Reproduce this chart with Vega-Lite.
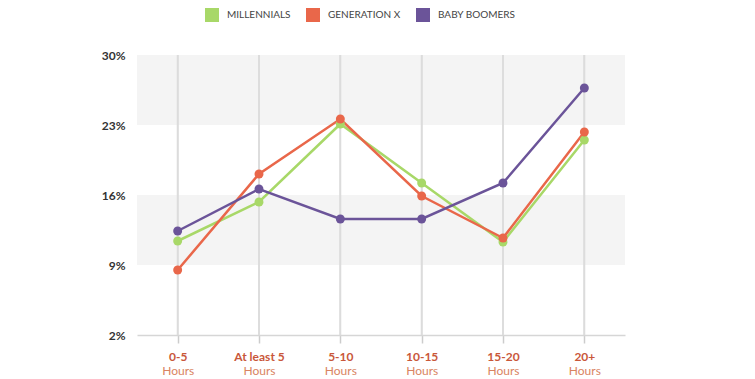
{
  "$schema": "https://vega.github.io/schema/vega-lite/v6.json",
  "width": 488,
  "height": 280,
  "autosize": {"type": "none"},
  "padding": {"left": 137, "top": 55, "right": 130, "bottom": 44},
  "background": "white",
  "config": {"view": {"stroke": null}, "font": "Lato"},
  "datasets": {
    "bands": [{"lo": 23, "hi": 30}, {"lo": 9, "hi": 16}],
    "main": [
      {"hours": "0-5", "gen": "MILLENNIALS", "value": 11.4},
      {"hours": "At least 5", "gen": "MILLENNIALS", "value": 15.3},
      {"hours": "5-10", "gen": "MILLENNIALS", "value": 23.1},
      {"hours": "10-15", "gen": "MILLENNIALS", "value": 17.2},
      {"hours": "15-20", "gen": "MILLENNIALS", "value": 11.3},
      {"hours": "20+", "gen": "MILLENNIALS", "value": 21.5},
      {"hours": "0-5", "gen": "GENERATION X", "value": 8.5},
      {"hours": "At least 5", "gen": "GENERATION X", "value": 18.1},
      {"hours": "5-10", "gen": "GENERATION X", "value": 23.6},
      {"hours": "10-15", "gen": "GENERATION X", "value": 15.9},
      {"hours": "15-20", "gen": "GENERATION X", "value": 11.7},
      {"hours": "20+", "gen": "GENERATION X", "value": 22.3},
      {"hours": "0-5", "gen": "BABY BOOMERS", "value": 12.4},
      {"hours": "At least 5", "gen": "BABY BOOMERS", "value": 16.6},
      {"hours": "5-10", "gen": "BABY BOOMERS", "value": 13.6},
      {"hours": "10-15", "gen": "BABY BOOMERS", "value": 13.6},
      {"hours": "15-20", "gen": "BABY BOOMERS", "value": 17.2},
      {"hours": "20+", "gen": "BABY BOOMERS", "value": 26.7}
    ]
  },
  "layer": [
    {
      "data": {"name": "bands"},
      "mark": {"type": "rect", "color": "#f4f4f4"},
      "encoding": {
        "y": {"field": "lo", "type": "quantitative", "scale": {"domain": [2, 30]},
              "axis": {"title": null, "values": [2, 9, 16, 23, 30], "grid": false, "ticks": false, "domain": false,
                   "labelExpr": "datum.value + '%'", "labelPadding": 12, "labelFontSize": 12, "labelColor": "#333333", "labelFontWeight": "bold"}},
        "y2": {"field": "hi"}
      }
    },
    {
      "data": {"name": "main"},
      "mark": {"type": "rule", "color": "#dcdcdc", "strokeWidth": 1.5},
      "encoding": {
        "x": {
          "field": "hours", "type": "ordinal",
          "scale": {"type": "point", "padding": 0.5, "domain": ["0-5", "At least 5", "5-10", "10-15", "15-20", "20+"]},
          "axis": {"orient": "bottom", "title": null, "grid": false, "ticks": false, "domain": false, "labelAngle": 0,
                   "labelExpr": "'Hours'", "labelPadding": 30, "labelFontSize": 12, "labelColor": "#d98462", "labelFontWeight": "normal"}
        }
      }
    },
    {
      "data": {"name": "main"},
      "mark": {"type": "line", "strokeWidth": 2.5, "point": {"filled": true, "size": 80, "opacity": 1}},
      "encoding": {
        "x": {
          "field": "hours", "type": "ordinal",
          "scale": {"type": "point", "padding": 0.5, "domain": ["0-5", "At least 5", "5-10", "10-15", "15-20", "20+"]},
          "axis": {"orient": "bottom", "title": null, "grid": false, "ticks": true, "tickSize": 8, "tickColor": "#cccccc", "tickWidth": 1.5,
                   "domain": true, "domainColor": "#d6d6d6", "domainWidth": 1.5, "labelAngle": 0,
                   "labelPadding": 8, "labelFontSize": 12, "labelColor": "#c9573a", "labelFontWeight": "bold"}
        },
        "y": {
          "field": "value", "type": "quantitative",
          "scale": {"domain": [2, 30]},
          "axis": {"title": null, "values": [2, 9, 16, 23, 30], "grid": false, "ticks": false, "domain": false,
                   "labelExpr": "datum.value + '%'", "labelPadding": 12, "labelFontSize": 12, "labelColor": "#333333", "labelFontWeight": "bold"}
        },
        "color": {
          "field": "gen", "type": "nominal",
          "scale": {"domain": ["MILLENNIALS", "GENERATION X", "BABY BOOMERS"], "range": ["#a8d868", "#e9674a", "#6b5499"]},
          "legend": {"title": null, "orient": "none", "direction": "horizontal", "legendX": 68, "legendY": -47, "padding": 0,
                     "symbolType": "square", "symbolSize": 196, "symbolStrokeWidth": 0, "symbolOpacity": 1, "labelFontSize": 10, "labelColor": "#444444",
                     "labelOffset": 8, "columnPadding": 15}
        }
      }
    }
  ],
  "resolve": {"scale": {"x": "independent"}, "axis": {"x": "independent"}}
}
